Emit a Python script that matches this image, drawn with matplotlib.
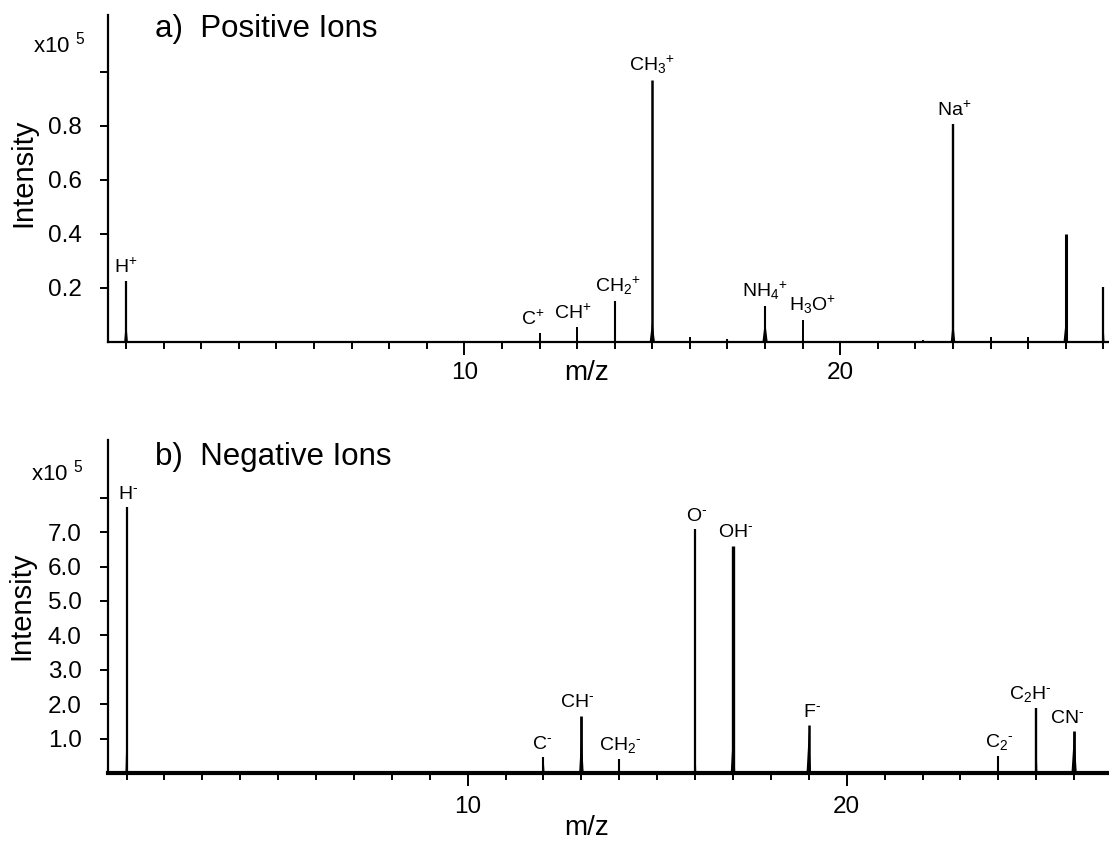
import matplotlib
matplotlib.use("Agg")
import matplotlib.pyplot as plt
from matplotlib.ticker import FixedLocator, MultipleLocator, FixedFormatter

plt.rcParams["font.family"] = ["Liberation Sans", "DejaVu Sans"]
plt.rcParams["mathtext.fontset"] = "custom"
plt.rcParams["mathtext.rm"] = "Liberation Sans"
plt.rcParams["mathtext.it"] = "Liberation Sans:italic"
plt.rcParams["mathtext.bf"] = "Liberation Sans:bold"
plt.rcParams["mathtext.default"] = "rm"

HY = "\u2010"  # short hyphen used as the negative-charge sign

# ---- a) positive ions (intensity in units of 1e5) ----
pos_mz = [1, 12, 13, 14, 15, 16, 17, 18, 19, 22.2, 23, 24, 25, 26, 27]
pos_int = [0.226, 0.035, 0.057, 0.152, 0.968, 0.018, 0.012, 0.134, 0.081,
           0.008, 0.807, 0.018, 0.018, 0.400, 0.204]
pos_names = [r"H$^{+}$", r"C$^{+}$", r"CH$^{+}$", r"CH$_2$$^{+}$", r"CH$_3$$^{+}$",
             "", "", r"NH$_4$$^{+}$", r"H$_3$O$^{+}$", "", r"Na$^{+}$", "", "", "", ""]
pos_yticks = [0.2, 0.4, 0.6, 0.8, 1.0]
pos_yticklabels = ["0.2", "0.4", "0.6", "0.8", ""]

# ---- b) negative ions (intensity in units of 1e5) ----
neg_mz = [1, 12, 13, 14, 16, 17, 19, 24, 25, 26]
neg_int = [7.73, 0.47, 1.67, 0.41, 7.09, 6.61, 1.40, 0.49, 1.89, 1.22]
neg_names = ["H$^{" + HY + "}$", "C$^{" + HY + "}$", "CH$^{" + HY + "}$",
             "CH$_2$$^{" + HY + "}$", "O$^{" + HY + "}$", "OH$^{" + HY + "}$",
             "F$^{" + HY + "}$", "C$_2$$^{" + HY + "}$", "C$_2$H$^{" + HY + "}$",
             "CN$^{" + HY + "}$"]
neg_yticks = [1, 2, 3, 4, 5, 6, 7, 8]
neg_yticklabels = ["1.0", "2.0", "3.0", "4.0", "5.0", "6.0", "7.0", ""]

xticks_major = [10, 20]

# peak styling: base half-width (m/z units), stem width (pt), label nudge (pt)
pos_base = [0.05, 0.02, 0.02, 0.02, 0.07, 0.03, 0.03, 0.07, 0.02, 0.05, 0.06, 0.02, 0.02, 0.06, 0.03]
pos_lw = [1.6, 1.4, 1.4, 1.5, 1.8, 1.4, 1.4, 1.5, 1.4, 1.4, 1.7, 1.4, 1.4, 2.2, 1.6]
pos_dx = [0, -5, -3, 2, 0, 0, 0, 0, 7, 0, 1, 0, 0, 0, 0]
neg_base = [0.03, 0.03, 0.06, 0.02, 0.03, 0.06, 0.06, 0.02, 0.03, 0.07]
neg_lw = [1.6, 1.5, 2.0, 1.5, 1.6, 2.4, 1.8, 1.5, 1.7, 2.0]
neg_dx = [1, -1, -3, 1, 1, 2, 2, 1, -4, -5]

W, H = 1109, 841
fig = plt.figure(figsize=(W / 100, H / 100), dpi=100)


def px(x, y):
    return x / W, 1 - y / H


def draw_panel(ax, mz, inten, base, lws, names, dx, flare, spine_lw):
    for m, h, b, lw, name, d in zip(mz, inten, base, lws, names, dx):
        fh = min(h, flare)
        ax.fill([m - b, m, m + b], [0, fh, 0], color="black", lw=0, zorder=3)
        ax.vlines(m, 0, h, color="black", lw=lw, zorder=3)
        if name:
            ax.annotate(name, xy=(m, h), xytext=(d, 3), textcoords="offset points",
                        ha="center", va="bottom", fontsize=14)
    for s in ("top", "right"):
        ax.spines[s].set_visible(False)
    ax.spines["left"].set_linewidth(1.6)
    ax.spines["bottom"].set_linewidth(spine_lw)
    ax.xaxis.set_major_locator(FixedLocator(xticks_major))
    ax.xaxis.set_minor_locator(MultipleLocator(1))
    ax.tick_params(axis="x", which="major", direction="out", length=9.5, width=1.4,
                   labelsize=17.5)
    ax.tick_params(axis="x", which="minor", direction="out", length=5, width=1.4)
    ax.tick_params(axis="y", which="major", direction="out", length=6, width=1.4,
                   labelsize=17.5, pad=13)


# top panel
ax1 = fig.add_axes([108 / W, 1 - 342 / H, 1 - 108 / W, (342 - 15) / H])
ax1.set_xlim(0.52, 27.15)
ax1.set_ylim(0, 1.21)
draw_panel(ax1, pos_mz, pos_int, pos_base, pos_lw, pos_names, pos_dx, 0.08, 1.6)
ax1.yaxis.set_major_locator(FixedLocator(pos_yticks))
ax1.yaxis.set_major_formatter(FixedFormatter(pos_yticklabels))
ax1.tick_params(axis="x", which="major", pad=5)

# bottom panel
ax2 = fig.add_axes([108 / W, 1 - 773 / H, 1 - 108 / W, (773 - 440) / H])
ax2.set_xlim(0.51, 26.92)
ax2.set_ylim(0, 9.68)
draw_panel(ax2, neg_mz, neg_int, neg_base, neg_lw, neg_names, neg_dx, 1.2, 3.0)
ax2.yaxis.set_major_locator(FixedLocator(neg_yticks))
ax2.yaxis.set_major_formatter(FixedFormatter(neg_yticklabels))
ax2.tick_params(axis="x", which="major", pad=7)

# panel titles, axis titles and scale factors
fig.text(*px(155, 29), "a)  Positive Ions", fontsize=22.5, ha="left", va="center")
fig.text(*px(155, 457), "b)  Negative Ions", fontsize=22.5, ha="left", va="center")
fig.text(*px(33, 45), r"x10 $^{5}$", fontsize=16, ha="left", va="center")
fig.text(*px(31, 473), r"x10 $^{5}$", fontsize=16, ha="left", va="center")
fig.text(*px(23, 173), "Intensity", fontsize=21, rotation=90, ha="center", va="center")
fig.text(*px(21, 606), "Intensity", fontsize=21, rotation=90, ha="center", va="center")
fig.text(*px(587, 373), "m/z", fontsize=20, ha="center", va="center")
fig.text(*px(587, 828), "m/z", fontsize=20, ha="center", va="center")

fig.savefig("out.png", dpi=100)
